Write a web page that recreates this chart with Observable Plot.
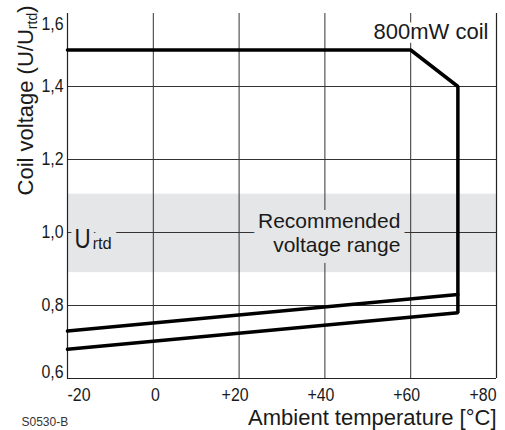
<!DOCTYPE html>
<html><head><meta charset="utf-8">
<script src="https://cdn.jsdelivr.net/npm/d3@7"></script>
<script src="https://cdn.jsdelivr.net/npm/@observablehq/plot@0.6"></script>
<style>
body{margin:0;background:#fff;}
#chart svg{display:block;}
</style></head><body><div id="chart"></div>
<script>
// ---- data ----
const xTicks = [-20, 0, 20, 40, 60, 80];
const xTickLabels = ["-20", "0", "+20", "+40", "+60", "+80"];
const yTicks = [0.6, 0.8, 1.0, 1.2, 1.4, 1.6];
const yTickLabels = ["0,6", "0,8", "1,0", "1,2", "1,4", "1,6"];
// max / release envelope (°C, U/Urtd)
const envelopeTemp = [-20, 60, 71, 71, -20];
const envelopeVolt = [1.5, 1.5, 1.4, 0.78, 0.68];
// pick-up voltage line
const pickupTemp = [-20, 71];
const pickupVolt = [0.73, 0.83];
// recommended voltage range band
const bandVolt = [0.89, 1.105];
const ratedVolt = 1.0;
const rangeLabelTemp = 57.6;
const coilLabel = "800mW coil";
const rangeLabel = "Recommended\nvoltage range";
const ratedMain = "U";
const ratedSub = "rtd";
const xLabel = "Ambient temperature [°C]";
const yLabel = "Coil voltage (U/U_rtd)";
const caption = "S0530-B";

// ---- build ----
const sans = '"Liberation Sans", Arial, sans-serif';
const ink = "#1a1a1a";
const gridColor = "#333";
const bandColor = "#e5e6e8";

const envelope = envelopeTemp.map((t, i) => ({t, v: envelopeVolt[i]}));
const pickup = pickupTemp.map((t, i) => ({t, v: pickupVolt[i]}));
const xt = xTicks.map((x, i) => ({x, label: xTickLabels[i]}));
const yt = yTicks.map((y, i) => ({y, label: yTickLabels[i]}));
const band = [{x1: xTicks[0], x2: xTicks[xTicks.length - 1], y1: bandVolt[0], y2: bandVolt[1]}];
const rated = [{t: xTicks[0], v: ratedVolt, main: ratedMain, sub: ratedSub}];
const nX = xt.length, nY = yt.length;

const xTickText = (filter, opts) => Plot.text(xt, {
  x: "x", text: "label", frameAnchor: "bottom", lineAnchor: "bottom", dy: 22,
  fontSize: 18.5, fill: ink, filter, ...opts
});
const yTickText = (filter, dy) => Plot.text(yt, {
  y: "y", text: "label", frameAnchor: "left", textAnchor: "end", lineAnchor: "middle",
  dx: -4, dy, fontSize: 18.5, fill: ink, filter
});

const chart = Plot.plot({
  width: 505,
  height: 430,
  marginLeft: 67,
  marginRight: 9,
  marginTop: 13,
  marginBottom: 52,
  x: {domain: [xTicks[0], xTicks[nX - 1]], axis: null},
  y: {domain: [yTicks[0], yTicks[nY - 1]], axis: null},
  style: {fontFamily: sans, background: "white", color: ink, overflow: "visible"},
  marks: [
    Plot.rect(band, {x1: "x1", x2: "x2", y1: "y1", y2: "y2", fill: bandColor}),
    Plot.ruleX(xTicks.slice(1, -1), {stroke: gridColor, strokeWidth: 1}),
    Plot.ruleY(yTicks.slice(1, -1), {stroke: gridColor, strokeWidth: 1}),
    Plot.ruleX([xTicks[0], xTicks[nX - 1]], {stroke: "#222", strokeWidth: 1.2}),
    Plot.ruleY([yTicks[0]], {stroke: "#222", strokeWidth: 1.2}),
    // tick labels
    xTickText((d, i) => i === 0, {textAnchor: "start"}),
    xTickText((d, i) => i === 1, {textAnchor: "middle", dx: 2}),
    xTickText((d, i) => i > 1 && i < nX - 1, {textAnchor: "middle", dx: -4}),
    xTickText((d, i) => i === nX - 1, {textAnchor: "end"}),
    yTickText((d, i) => i === 0, -6),
    yTickText((d, i) => i > 0 && i < nY - 1, 0),
    yTickText((d, i) => i === nY - 1, 11),
    // annotations: subscript first, then the big U on top of it
    Plot.text(rated, {
      x: "t", y: "v", text: "sub", textAnchor: "start", lineAnchor: "bottom",
      dx: 25, dy: 16, fontSize: 16.5, fill: ink,
      stroke: bandColor, strokeWidth: 14, paintOrder: "stroke"
    }),
    Plot.text(rated, {
      x: "t", y: "v", text: "main", textAnchor: "start", lineAnchor: "bottom",
      dx: 7, dy: 15, fontSize: 28, fill: ink,
      stroke: bandColor, strokeWidth: 12, paintOrder: "stroke"
    }),
    Plot.text([{t: rangeLabelTemp, v: ratedVolt, s: rangeLabel}], {
      x: "t", y: "v", text: "s", textAnchor: "end", lineAnchor: "middle",
      lineHeight: 1.12, fontSize: 21, fill: ink,
      stroke: bandColor, strokeWidth: 14, paintOrder: "stroke"
    }),
    Plot.text([coilLabel], {
      frameAnchor: "top-right", textAnchor: "end", lineAnchor: "bottom",
      dx: -8, dy: 25, fontSize: 22, fill: ink,
      stroke: "white", strokeWidth: 8, paintOrder: "stroke"
    }),
    Plot.text([xLabel], {
      frameAnchor: "bottom-right", textAnchor: "end", lineAnchor: "bottom",
      dy: 46, fontSize: 22, fill: ink
    }),
    Plot.text([yLabel], {
      frameAnchor: "top-left", textAnchor: "end", lineAnchor: "bottom",
      rotate: -90, dx: -35, dy: -8, fontSize: 22, fill: ink
    }),
    Plot.text([caption], {
      frameAnchor: "bottom-left", textAnchor: "start", lineAnchor: "bottom",
      dx: -46, dy: 47, fontSize: 12, fill: "#333"
    }),
    // curves
    Plot.line(pickup, {x: "t", y: "v", stroke: "#000", strokeWidth: 3.5}),
    Plot.line(envelope, {x: "t", y: "v", stroke: "#000", strokeWidth: 3.5, strokeLinejoin: "miter"})
  ]
});

document.getElementById("chart").appendChild(chart);

const ns = "http://www.w3.org/2000/svg";
// horizontal squeeze (narrow-typeface look); scales about the text anchor
const condense = (t, k) => {
  const tr = t.getAttribute("transform");
  if (tr) {
    t.setAttribute("transform", `${tr} scale(${k},1)`);
  } else {
    const L = t.getComputedTextLength();
    t.setAttribute("textLength", L * k);
    t.setAttribute("lengthAdjust", "spacingAndGlyphs");
  }
};
// subscript in the y-axis title
chart.querySelectorAll("text").forEach(t => {
  const s = t.textContent;
  if (!s.includes("U_rtd") || t.querySelector("tspan")) return;
  const [before, after] = s.split("U_rtd");
  t.textContent = "";
  const mk = (txt, attrs) => { const e = document.createElementNS(ns, "tspan"); e.textContent = txt; for (const k in attrs) e.setAttribute(k, attrs[k]); t.appendChild(e); return e; };
  mk(before + "U", {});
  mk("rtd", {"font-size": 14, dy: 4});
  if (after) mk(after, {dy: -4});
});

// condensed look for tick labels and the big "U"
const tickSet = new Set([...xTickLabels, ...yTickLabels]);
chart.querySelectorAll("text").forEach(t => {
  if (tickSet.has(t.textContent)) condense(t, 0.86);
  else if (t.textContent === ratedMain) condense(t, 0.8);
});
</script>
</body></html>
